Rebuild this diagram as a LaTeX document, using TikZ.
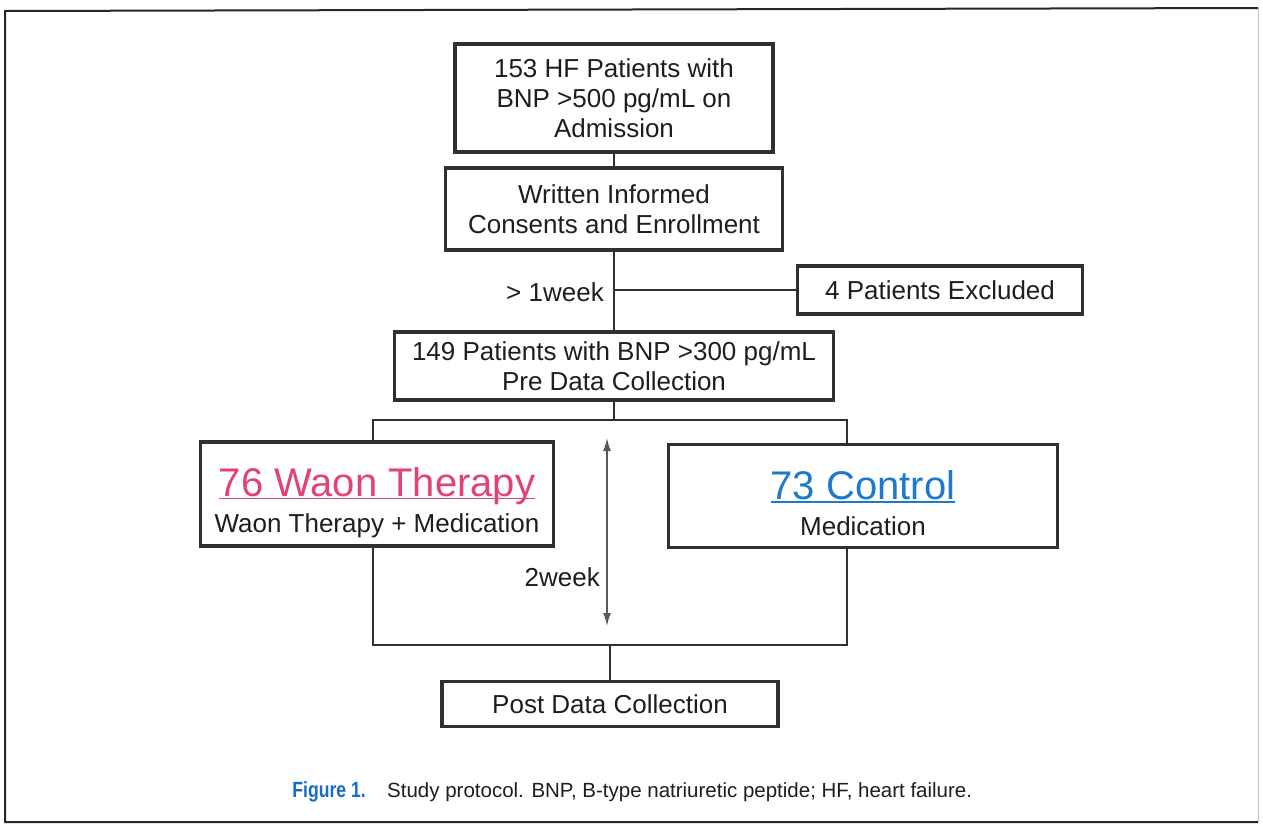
\documentclass[tikz,border=0pt]{standalone}
\usepackage{fontspec}
\setmainfont{Liberation Sans}
\usetikzlibrary{arrows.meta}
\definecolor{boxc}{RGB}{48,48,48}
\definecolor{txtc}{RGB}{30,30,30}
\definecolor{pinkc}{RGB}{226,66,122}
\definecolor{bluec}{RGB}{28,122,206}
\definecolor{capblue}{RGB}{24,108,200}
\newcommand\ulbox[1]{\sbox0{#1}\rlap{\rule[-3pt]{\wd0}{1.6pt}}\usebox0}
\begin{document}
\begin{tikzpicture}[x=1pt,y=-1pt,
  box/.style={draw=boxc, line width=3.5pt, fill=white, text=txtc, align=center,
    inner sep=0pt, font=\fontsize{26}{30}\selectfont},
  bigbox/.style={box, font=\fontsize{26}{36}\selectfont},
  conn/.style={draw=boxc, line width=2.5pt},
  lbl/.style={text=txtc, inner sep=0pt, font=\fontsize{26}{30}\selectfont},
  twoway/.style={draw=black!65, line width=1.6pt,
    {Latex[length=13pt,width=8pt]}-{Latex[length=13pt,width=8pt]}},
  frame/.style={draw=black!85, line width=2pt}
]
\useasboundingbox (0,0) rectangle (1263,825);
\fill[white] (0,0) rectangle (1263,825);
% outer frame
\draw[frame] (1258,822) -- (5,822) -- (5,11) -- (1258,8);
\draw[draw=black!25, line width=1pt] (1258,8) -- (1258,822);

% boxes
\node[box, minimum width=318pt, minimum height=108pt] (B1) at (614,98)
  {153 HF Patients with\\BNP >500 pg/mL on\\Admission};
\node[box, minimum width=337pt, minimum height=82pt] (B2) at (614,209)
  {Written Informed\\Consents and Enrollment};
\node[box, minimum width=285pt, minimum height=48pt] (B4) at (940,290)
  {4 Patients Excluded};
\node[box, minimum width=439pt, minimum height=68pt] (B3) at (614,366)
  {149 Patients with BNP >300 pg/mL\\Pre Data Collection};
\node[bigbox, minimum width=353pt, minimum height=104pt] (L) at (377,494)
  {\rule{0pt}{46pt}{\fontsize{40}{36}\selectfont\color{pinkc}\ulbox{76 Waon Therapy}}\\Waon Therapy + Medication};
\node[bigbox, minimum width=389pt, minimum height=103pt] (R) at (863,496)
  {\rule{0pt}{44pt}{\fontsize{40}{36}\selectfont\color{bluec}\ulbox{73 Control}}\\Medication};
\node[box, minimum width=336pt, minimum height=45pt] (B5) at (610,704)
  {Post Data Collection};

% labels
\node[lbl, anchor=east] (w1) at (604,292) {> 1week};
\node[lbl, anchor=east] (w2) at (600,577) {2week};

% connectors
\coordinate (tl) at (373,420);
\coordinate (tr) at (847,420);
\coordinate (bl) at (373,645);
\coordinate (br) at (847,645);
\coordinate (atop) at (607,438);
\coordinate (abot) at (607,626);

\draw[conn] (B1.south) -- (B2.north);
\draw[conn] (B2.south) -- (B3.north);
\draw[conn] (B2.south |- B4.west) -- (B4.west);
\draw[conn] (B3.south) -- (B3.south |- tl);
\draw[conn] (L.north -| tl) -- (tl) -- (tr) -- (R.north -| tr);
\draw[conn] (L.south -| bl) -- (bl) -- (br) -- (R.south -| br);
\draw[conn] (B5.north |- bl) -- (B5.north);
\draw[twoway] (atop) -- (abot);

% caption
\node[anchor=base east, inner sep=0pt, text=capblue,
  font=\fontsize{22}{24}\selectfont\bfseries] (figlab) at (366,797)
  {\scalebox{0.8}[1]{Figure 1.}};
\node[anchor=base west, inner sep=0pt, text=txtc,
  font=\fontsize{20.5}{24}\selectfont] (cap) at (387,797)
  {Study protocol. BNP, B-type natriuretic peptide; HF, heart failure.};
\end{tikzpicture}
\end{document}
